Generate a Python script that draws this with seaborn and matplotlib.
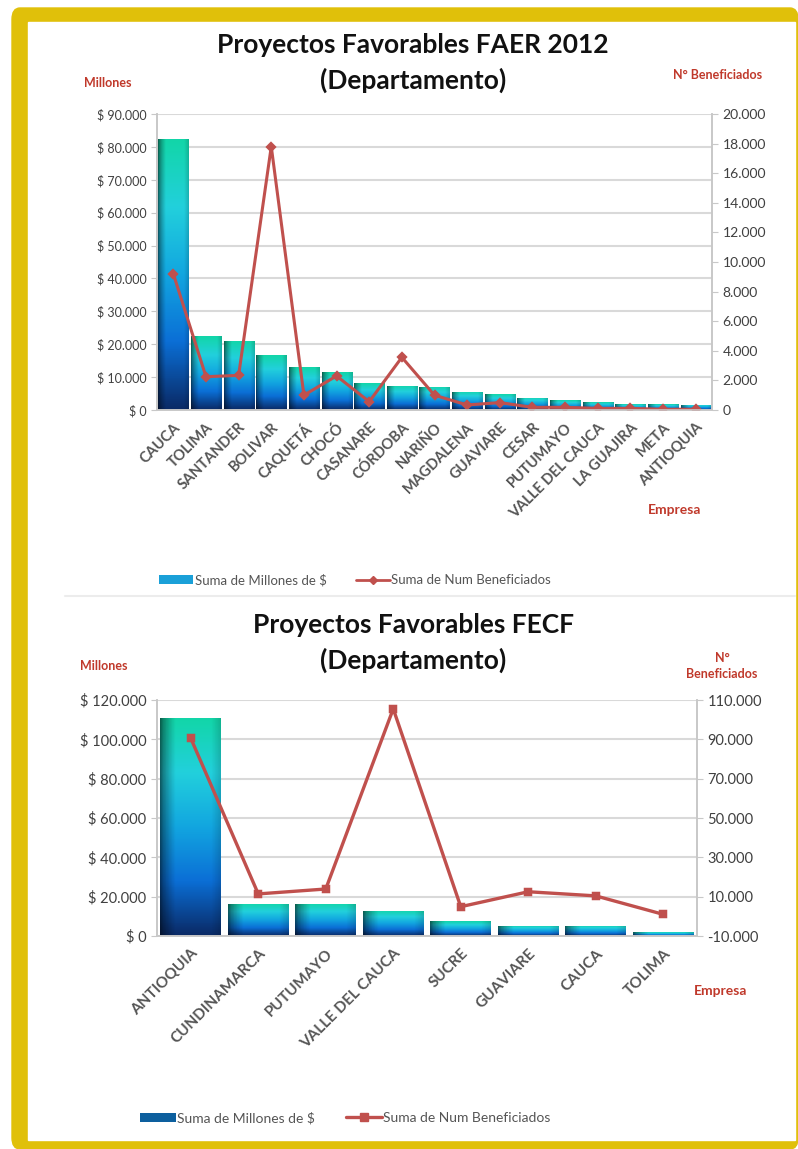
import numpy as np
import matplotlib
matplotlib.use("Agg")
import matplotlib.pyplot as plt
import seaborn as sns
from matplotlib.colors import LinearSegmentedColormap
from matplotlib.patches import Rectangle, FancyBboxPatch, Patch
from matplotlib.lines import Line2D
from matplotlib.ticker import FuncFormatter, MultipleLocator, FixedLocator

# --- data: FAER 2012 ---
faer_deptos = ["CAUCA", "TOLIMA", "SANTANDER", "BOLIVAR", "CAQUETÁ", "CHOCÓ",
               "CASANARE", "CÓRDOBA", "NARIÑO", "MAGDALENA", "GUAVIARE", "CESAR",
               "PUTUMAYO", "VALLE DEL CAUCA", "LA GUAJIRA", "META", "ANTIOQUIA"]
faer_millones = [82500, 22500, 21000, 16700, 13000, 11500, 8200, 7300, 7000,
                 5600, 4800, 3700, 3000, 2300, 1800, 1700, 1600]
faer_benef = [9200, 2250, 2340, 17800, 1000, 2300, 560, 3560, 1000,
              340, 500, 180, 180, 110, 110, 50, 50]

# --- data: FECF ---
fecf_deptos = ["ANTIOQUIA", "CUNDINAMARCA", "PUTUMAYO", "VALLE DEL CAUCA",
               "SUCRE", "GUAVIARE", "CAUCA", "TOLIMA"]
fecf_millones = [111000, 16300, 16300, 12900, 7600, 5200, 5100, 2000]
fecf_benef = [90600, 11400, 13900, 105500, 4900, 12500, 10400, 1000]
fecf_benef_ticks = [-10000, 10000, 30000, 50000, 70000, 90000, 110000]

W, H = 798, 1149
sns.set_style("white")
plt.rcParams["font.family"] = ["Lato", "DejaVu Sans"]

RED = "#C0504D"
LBL = "#C0392B"
GRAY = "#404040"
bar_cmap = LinearSegmentedColormap.from_list(
    "bar", ["#0a2a66", "#0b6fd6", "#12a6e0", "#22d0dc", "#12d6a8"])


def box(l, t, r, b):
    return [l / W, 1 - b / H, (r - l) / W, (b - t) / H]


def pesos(v, _):
    return "$ " + f"{int(v):,}".replace(",", ".")


def miles(v, _):
    return f"{int(v):,}".replace(",", ".")


def gradient_bars(ax):
    xs = np.linspace(0, 1, 40)
    shade = 0.45 + 0.55 * np.clip(xs / 0.25, 0, 1) ** 0.7
    shade = shade * (1 - 0.15 * np.clip((xs - 0.85) / 0.15, 0, 1))
    ys = np.linspace(0, 1, 120)[:, None]
    for p in list(ax.patches):
        x, w, h = p.get_x(), p.get_width(), p.get_height()
        rgb = bar_cmap(ys)[..., :3] * np.ones((1, 40, 1))
        rgb = rgb * shade[None, :, None]
        im = ax.imshow(rgb, extent=(x, x + w, 0, h), origin="lower",
                       aspect="auto", zorder=2)
        im.set_clip_path(p)


def style_axes(ax, ax2, lsize, rsize, xsize):
    for a in (ax, ax2):
        a.spines["top"].set_visible(False)
        for s in ["left", "right", "bottom"]:
            a.spines[s].set_color("#c8c8c8")
            a.spines[s].set_linewidth(1.2)
        a.tick_params(axis="y", colors=GRAY, length=4, color="#c8c8c8")
        a.set_xlabel("")
        a.set_ylabel("")
    ax.tick_params(axis="y", labelsize=lsize)
    ax2.tick_params(axis="y", labelsize=rsize)
    ax.yaxis.grid(True, color="#d9d9d9", linewidth=1.5, zorder=0)
    ax.set_axisbelow(True)
    ax.tick_params(axis="x", colors=GRAY, length=4, color="#c8c8c8")
    for t in ax.get_xticklabels():
        t.set_rotation(45)
        t.set_ha("right")
        t.set_rotation_mode("anchor")
        t.set_fontsize(xsize)
        t.set_fontweight("bold")
        t.set_color("#555555")
    ax2.tick_params(axis="x", length=0)
    ax2.patch.set_visible(False)


fig = plt.figure(figsize=(W / 100, H / 100), dpi=100)
fig.patches.append(FancyBboxPatch((12 / W, 0), 786 / W, 1 - 8 / H,
                                  boxstyle="round,pad=0,rounding_size=0.01",
                                  transform=fig.transFigure, color="#E0C00A",
                                  zorder=-2))
fig.patches.append(Rectangle((28 / W, 9 / H), 767 / W, 1 - 31 / H,
                             transform=fig.transFigure, color="white",
                             zorder=-1))
fig.add_artist(Line2D([65 / W, 795 / W], [1 - 596 / H] * 2, color="#ececec",
                      linewidth=1.5, transform=fig.transFigure))

# ---------------- chart 1 ----------------
ax1 = fig.add_axes(box(157, 114, 712, 410))
sns.barplot(x=faer_deptos, y=faer_millones, ax=ax1, width=0.92, color="#1aa0d8",
            edgecolor="none", zorder=2)
gradient_bars(ax1)
ax1.set_ylim(0, 90000)
ax1.set_xlim(-0.5, len(faer_deptos) - 0.5)
ax1.yaxis.set_major_locator(MultipleLocator(10000))
ax1.yaxis.set_major_formatter(FuncFormatter(pesos))
ax1b = ax1.twinx()
sns.pointplot(x=faer_deptos, y=faer_benef, ax=ax1b, color=RED, markers="D",
              markersize=4, linewidth=2.2)
ax1b.set_ylim(0, 20000)
ax1b.set_xlim(-0.5, len(faer_deptos) - 0.5)
ax1b.yaxis.set_major_locator(MultipleLocator(2000))
ax1b.yaxis.set_major_formatter(FuncFormatter(miles))
style_axes(ax1, ax1b, 9, 10, 10.5)

fig.text(413 / W, 1 - 45 / H, "Proyectos Favorables FAER 2012", ha="center",
         va="center", fontsize=19, fontweight="bold", color="#111111")
fig.text(413 / W, 1 - 80 / H, "(Departamento)", ha="center", va="center",
         fontsize=19, fontweight="bold", color="#111111")
fig.text(108 / W, 1 - 83 / H, "Millones", ha="center", va="center",
         fontsize=9, fontweight="bold", color=LBL)
fig.text(718 / W, 1 - 75 / H, "N° Beneficiados", ha="center", va="center",
         fontsize=9, fontweight="bold", color=LBL)
fig.text(675 / W, 1 - 510 / H, "Empresa", ha="center", va="center",
         fontsize=10, fontweight="bold", color=LBL)
fig.legend(handles=[Patch(facecolor="#1aa0d8", edgecolor="none",
                          label="Suma de Millones de $"),
                    Line2D([], [], color=RED, marker="D", markersize=4,
                           linewidth=2, label="Suma de Num Beneficiados")],
           loc="center", bbox_to_anchor=(355 / W, 1 - 580 / H), ncol=2,
           frameon=False, fontsize=9.5, labelcolor="#555555",
           handlelength=2.6, handletextpad=0.1, columnspacing=2.2)

# ---------------- chart 2 ----------------
ax2 = fig.add_axes(box(157, 700, 697, 936))
sns.barplot(x=fecf_deptos, y=fecf_millones, ax=ax2, width=0.9, color="#1aa0d8",
            edgecolor="none", zorder=2)
gradient_bars(ax2)
ax2.set_ylim(0, 120000)
ax2.set_xlim(-0.5, len(fecf_deptos) - 0.5)
ax2.yaxis.set_major_locator(MultipleLocator(20000))
ax2.yaxis.set_major_formatter(FuncFormatter(pesos))
ax2b = ax2.twinx()
sns.pointplot(x=fecf_deptos, y=fecf_benef, ax=ax2b, color=RED, markers="s",
              markersize=5, linewidth=2.4)
ax2b.set_ylim(-10000, 110000)
ax2b.set_xlim(-0.5, len(fecf_deptos) - 0.5)
ax2b.yaxis.set_major_locator(FixedLocator(fecf_benef_ticks))
ax2b.yaxis.set_major_formatter(FuncFormatter(miles))
style_axes(ax2, ax2b, 10.5, 10.5, 11)

fig.text(413 / W, 1 - 625 / H, "Proyectos Favorables FECF", ha="center",
         va="center", fontsize=19, fontweight="bold", color="#111111")
fig.text(413 / W, 1 - 660 / H, "(Departamento)", ha="center", va="center",
         fontsize=19, fontweight="bold", color="#111111")
fig.text(104 / W, 1 - 666 / H, "Millones", ha="center", va="center",
         fontsize=9, fontweight="bold", color=LBL)
fig.text(722 / W, 1 - 666 / H, "N°\nBeneficiados", ha="center", va="center",
         fontsize=9, fontweight="bold", color=LBL, linespacing=1.3)
fig.text(721 / W, 1 - 991 / H, "Empresa", ha="center", va="center",
         fontsize=10, fontweight="bold", color=LBL)
fig.legend(handles=[Patch(facecolor="#0d5f9e", edgecolor="none",
                          label="Suma de Millones de $"),
                    Line2D([], [], color=RED, marker="s", markersize=6,
                           linewidth=2.4, label="Suma de Num Beneficiados")],
           loc="center", bbox_to_anchor=(345 / W, 1 - 1118 / H), ncol=2,
           frameon=False, fontsize=10, labelcolor="#555555",
           handlelength=2.6, handletextpad=0.1, columnspacing=2.2)

fig.savefig("out.png", dpi=100)
